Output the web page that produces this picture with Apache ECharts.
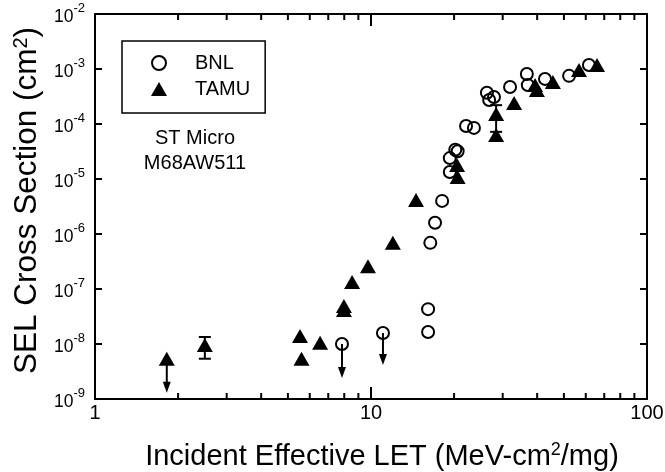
<!DOCTYPE html>
<html><head><meta charset="utf-8">
<script src="https://cdn.jsdelivr.net/npm/echarts@6/dist/echarts.min.js"></script>
<style>html,body{margin:0;padding:0;background:#fff}#c{width:665px;height:472px}</style>
</head><body><div id="c"></div>
<script>
// BNL data (open circles)
const bnlLET   = [7.85, 11.05, 16.1, 16.1, 16.4, 17.06, 18.1, 19.3, 19.3, 20.2, 20.6, 22.1, 23.6, 26.3, 26.8, 27.9, 31.9, 36.7, 37.0, 42.7, 52.2, 61.6];
const bnlSigma = [1.0e-8, 1.58e-8, 4.3e-8, 1.65e-8, 6.9e-7, 1.6e-6, 4.0e-6, 1.34e-5, 2.4e-5, 3.4e-5, 3.2e-5, 9.2e-5, 8.5e-5, 3.7e-4, 2.73e-4, 3.1e-4, 4.7e-4, 8.1e-4, 5.1e-4, 6.6e-4, 7.5e-4, 1.18e-3];
// TAMU data (filled triangles)
const tamuLET   = [1.82, 2.5, 5.53, 5.6, 6.54, 7.98, 7.98, 8.54, 9.75, 12.0, 14.56, 20.5, 20.6, 28.4, 28.4, 33.0, 39.3, 39.9, 45.6, 56.7, 65.9];
const tamuSigma = [5.4e-9, 9.6e-9, 1.4e-8, 5.4e-9, 1.05e-8, 4.9e-8, 4.15e-8, 1.34e-7, 2.6e-7, 6.9e-7, 4.15e-6, 1.8e-5, 1.09e-5, 1.52e-4, 6.3e-5, 2.41e-4, 5.1e-4, 4.15e-4, 5.8e-4, 9.6e-4, 1.18e-3];
// upper-limit arrows
const arrowLET  = [1.82, 7.85, 11.05];
const arrowFrom = [5.4e-9, 1.0e-8, 1.58e-8];
const arrowTo   = [1.3e-9, 2.4e-9, 4.15e-9];
// error bars
const errLET  = [2.5, 28.4];
const errHigh = [1.34e-8, 2.2e-4];
const errLow  = [5.4e-9, 7.2e-5];
// axis ranges and ticks
const xMin = 1, xMax = 100, yMin = 1e-9, yMax = 1e-2;
const xMajorTicks = [10];
const xMinorTicks = [2, 3, 4, 5, 6, 7, 8, 9, 20, 30, 40, 50, 60, 70, 80, 90];
const yMajorTicks = [1e-8, 1e-7, 1e-6, 1e-5, 1e-4, 1e-3];

const FONT = '"Liberation Sans", Arial, Helvetica, sans-serif';
const chart = echarts.init(document.getElementById('c'), null, {renderer: 'canvas'});

const axisLineStyle = {show: true, lineStyle: {color: '#000', width: 2}};
const zip = (a, b) => a.map((v, i) => [v, b[i]]);
const TICK = {stroke: '#000', lineWidth: 2};

const textGraphics = [
  {type: 'text', x: 195, y: 138, style: {text: 'ST Micro', font: '20px ' + FONT, fill: '#000', textAlign: 'center', textVerticalAlign: 'middle', align: 'center', verticalAlign: 'middle'}},
  {type: 'text', x: 195, y: 163, style: {text: 'M68AW511', font: '20px ' + FONT, fill: '#000', textAlign: 'center', textVerticalAlign: 'middle', align: 'center', verticalAlign: 'middle'}}
];

const option = {
  animation: false,
  backgroundColor: '#fff',
  grid: {left: 95, right: 18, top: 14, bottom: 73, containLabel: false, outerBoundsMode: 'none'},
  legend: {
    orient: 'vertical', left: 122, top: 41,
    borderColor: '#000', borderWidth: 1.5,
    padding: [12, 15, 14, 29], itemGap: 6, itemWidth: 16, itemHeight: 14,
    textStyle: {fontFamily: FONT, fontSize: 20, lineHeight: 20, color: '#000', padding: [0, 0, 0, 23]},
    data: ['BNL', 'TAMU']
  },
  xAxis: [{
    type: 'log', logBase: 10, min: xMin, max: xMax, position: 'bottom',
    axisLine: axisLineStyle,
    axisTick: {show: false},
    axisLabel: {fontFamily: FONT, fontSize: 20, color: '#000', margin: 4},
    splitLine: {show: false},
    name: 'Incident Effective LET (MeV-cm{s|2}/mg)',
    nameLocation: 'middle', nameGap: 42,
    nameTextStyle: {fontFamily: FONT, fontSize: 29, color: '#000', lineHeight: 32, padding: [0, 0, 0, 22],
      rich: {s: {fontFamily: FONT, fontSize: 18, color: '#000', verticalAlign: 'top', lineHeight: 16}}}
  }, {
    type: 'log', logBase: 10, min: xMin, max: xMax, position: 'top',
    axisLine: axisLineStyle, axisTick: {show: false},
    axisLabel: {show: false}, splitLine: {show: false}
  }],
  yAxis: [{
    type: 'log', logBase: 10, min: yMin, max: yMax, splitNumber: 7, position: 'left',
    axisLine: axisLineStyle,
    axisTick: {show: false},
    axisLabel: {
      margin: 10, color: '#000',
      formatter: v => '{b|10}{s|' + Math.round(Math.log10(v)) + '}',
      rich: {
        b: {fontFamily: FONT, fontSize: 17.5, color: '#000', lineHeight: 24, verticalAlign: 'bottom'},
        s: {fontFamily: FONT, fontSize: 13, color: '#000', lineHeight: 13, verticalAlign: 'top'}
      }
    },
    splitLine: {show: false},
    name: 'SEL Cross Section (cm{s|2})',
    nameLocation: 'middle', nameGap: 42, nameRotate: 90,
    nameTextStyle: {fontFamily: FONT, fontSize: 31.5, color: '#000', lineHeight: 32, padding: [0, 0, 0, 12],
      rich: {s: {fontFamily: FONT, fontSize: 20, color: '#000', verticalAlign: 'top', lineHeight: 16}}}
  }, {
    type: 'log', logBase: 10, min: yMin, max: yMax, splitNumber: 7, position: 'right',
    axisLine: axisLineStyle, axisTick: {show: false},
    axisLabel: {show: false}, splitLine: {show: false}
  }],
  graphic: textGraphics,
  series: [
    {
      name: 'BNL', type: 'scatter', symbol: 'circle', symbolSize: 12,
      itemStyle: {color: 'rgba(0,0,0,0)', borderColor: '#000', borderWidth: 2, opacity: 1},
      data: zip(bnlLET, bnlSigma), z: 3
    },
    {
      name: 'arrows', type: 'custom', silent: true, z: 4,
      data: arrowLET.map((v, i) => [v, arrowFrom[i], arrowTo[i]]), encode: {x: 0, y: [1, 2]},
      renderItem: (params, api) => {
        const p0 = api.coord([api.value(0), api.value(1)]);
        const p1 = api.coord([api.value(0), api.value(2)]);
        return {type: 'group', children: [
          {type: 'line', shape: {x1: p0[0], y1: p0[1], x2: p1[0], y2: p1[1] - 8}, style: {stroke: '#000', lineWidth: 2}},
          {type: 'polygon', shape: {points: [[p1[0] - 4, p1[1] - 11], [p1[0] + 4, p1[1] - 11], [p1[0], p1[1]]]}, style: {fill: '#000'}}
        ]};
      }
    },
    {
      name: 'errors', type: 'custom', silent: true, z: 4,
      data: errLET.map((v, i) => [v, errHigh[i], errLow[i]]), encode: {x: 0, y: [1, 2]},
      renderItem: (params, api) => {
        const p0 = api.coord([api.value(0), api.value(1)]);
        const p1 = api.coord([api.value(0), api.value(2)]);
        return {type: 'group', children: [
          {type: 'line', shape: {x1: p0[0], y1: p0[1], x2: p1[0], y2: p1[1]}, style: TICK},
          {type: 'line', shape: {x1: p0[0] - 6, y1: p0[1], x2: p0[0] + 6, y2: p0[1]}, style: TICK},
          {type: 'line', shape: {x1: p1[0] - 6, y1: p1[1], x2: p1[0] + 6, y2: p1[1]}, style: TICK}
        ]};
      }
    },
    {
      name: 'TAMU', type: 'scatter', symbol: 'triangle', symbolSize: [16, 14],
      itemStyle: {color: '#000', opacity: 1},
      data: zip(tamuLET, tamuSigma), z: 5
    }
  ]
};
chart.setOption(option);

// Tick marks: positions come from the axes' own log scales via convertToPixel
const finder = {xAxisIndex: 0, yAxisIndex: 0};
const tickLines = [];
function addLine(x1, y1, x2, y2) {
  tickLines.push({type: 'line', z: 100, silent: true,
    shape: {x1: x1, y1: y1, x2: x2, y2: y2}, style: {stroke: '#000', lineWidth: 2}});
}
const yB = chart.convertToPixel(finder, [xMin, yMin])[1];
const yT = chart.convertToPixel(finder, [xMin, yMax])[1];
const xL = chart.convertToPixel(finder, [xMin, yMin])[0];
const xR = chart.convertToPixel(finder, [xMax, yMin])[0];
xMajorTicks.forEach(v => {
  const x = chart.convertToPixel(finder, [v, yMin])[0];
  addLine(x, yB, x, yB - 12); addLine(x, yT, x, yT + 12);
});
xMinorTicks.forEach(v => {
  const x = chart.convertToPixel(finder, [v, yMin])[0];
  addLine(x, yB, x, yB - 6); addLine(x, yT, x, yT + 6);
});
yMajorTicks.forEach(v => {
  const y = chart.convertToPixel(finder, [xMin, v])[1];
  addLine(xL, y, xL + 7, y); addLine(xR, y, xR - 7, y);
});
chart.setOption({graphic: textGraphics.concat(tickLines)});
</script>
</body></html>
